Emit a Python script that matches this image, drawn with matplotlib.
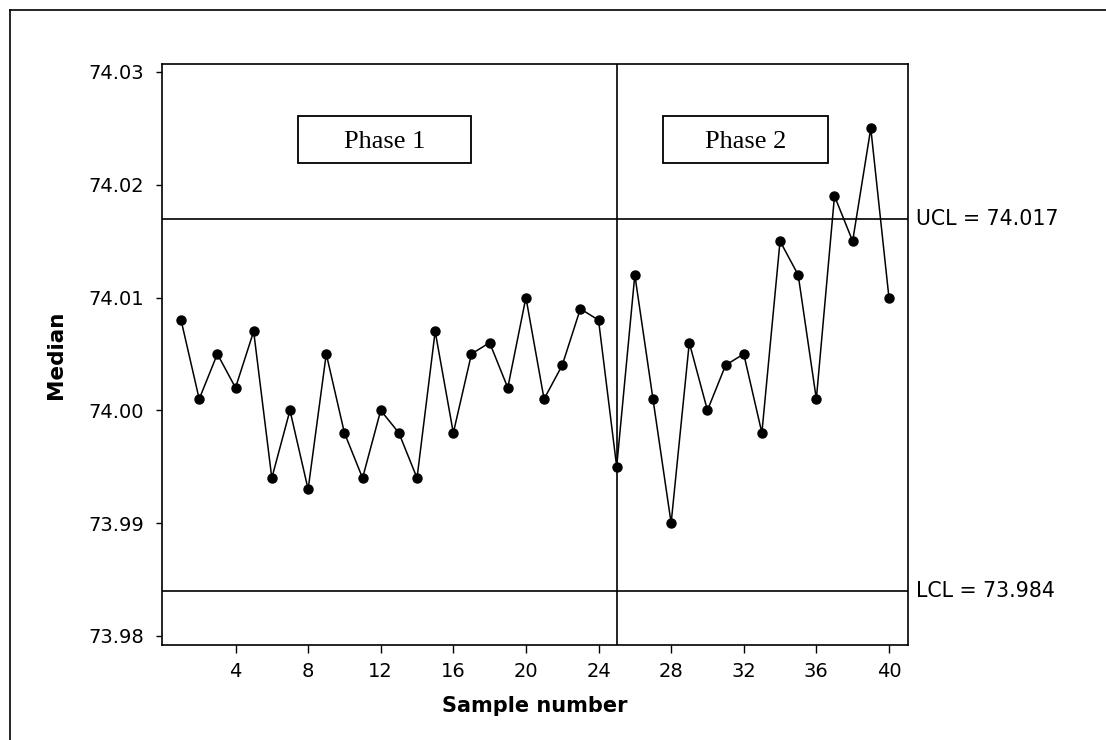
import matplotlib
matplotlib.use("Agg")
import matplotlib.pyplot as plt
from matplotlib.lines import Line2D
from matplotlib.patches import Rectangle

sample = list(range(1, 41))
median = [74.008, 74.001, 74.005, 74.002, 74.007, 73.994, 74.000, 73.993, 74.005, 73.998,
          73.994, 74.000, 73.998, 73.994, 74.007, 73.998, 74.005, 74.006, 74.002, 74.010,
          74.001, 74.004, 74.009, 74.008, 73.995, 74.012, 74.001, 73.990, 74.006, 74.000,
          74.004, 74.005, 73.998, 74.015, 74.012, 74.001, 74.019, 74.015, 74.025, 74.010]
ucl = 74.017
lcl = 73.984
phase_split = 25
phase_labels = ["Phase 1", "Phase 2"]
xticks = [4, 8, 12, 16, 20, 24, 28, 32, 36, 40]
yticks = [73.98, 73.99, 74.00, 74.01, 74.02, 74.03]
ytick_labels = ["73.98", "73.99", "74.00", "74.01", "74.02", "74.03"]

W, H = 1106, 740
fig = plt.figure(figsize=(W / 100, H / 100), dpi=100)
ax = fig.add_axes([162/W, 1-645/H, (908-162)/W, (645-64)/H])

ax.plot(sample, median, color="black", lw=1.1, marker="o", ms=6.5, zorder=3)
ax.axhline(ucl, color="black", lw=1.2)
ax.axhline(lcl, color="black", lw=1.2)
ax.axvline(phase_split, color="black", lw=1.2)

ax.set_xlim(-0.05, 41.05)
ax.set_ylim(73.9792, 74.0307)
ax.set_xticks(xticks)
ax.set_yticks(yticks)
ax.set_yticklabels(ytick_labels)
ax.tick_params(direction="out", width=1, labelsize=14, colors="black")
ax.tick_params(axis="x", length=6, pad=6)
ax.tick_params(axis="y", length=4, pad=9)
for s in ax.spines.values():
    s.set_linewidth(1.2)

ax.set_xlabel("Sample number", fontsize=15, fontweight="bold", labelpad=11)
ax.set_ylabel("Median", fontsize=15.5, fontweight="bold", labelpad=16)

ax.text(41.5, ucl, "UCL = 74.017", fontsize=14.8, va="center", ha="left")
ax.text(41.5, lcl, "LCL = 73.984", fontsize=14.8, va="center", ha="left")

# phase boxes (axes-fraction coordinates)
def px_to_axes(x0, x1, y0, y1):
    l, b, w, h = 162, 645, 908 - 162, 645 - 64
    return (x0 - l) / w, (b - y1) / h, (x1 - x0) / w, (y1 - y0) / h

for lab, (x0, x1) in zip(phase_labels, [(298, 471), (663, 828)]):
    bx, by, bw, bh = px_to_axes(x0, x1, 116, 163)
    ax.add_patch(Rectangle((bx, by), bw, bh, transform=ax.transAxes, fc="white",
                           ec="black", lw=1.3, zorder=4))
    ax.text(bx + bw / 2, by + bh / 2 - 0.004, lab, transform=ax.transAxes, fontsize=19,
            family="Liberation Serif", ha="center", va="center", zorder=5)

# outer frame
fig.add_artist(Line2D([10/W, 10/W], [0, 1-10/H], transform=fig.transFigure, color="black", lw=1.2))
fig.add_artist(Line2D([10/W, 1], [1-10/H, 1-10/H], transform=fig.transFigure, color="black", lw=1.2))

fig.savefig("out.png", dpi=100)
